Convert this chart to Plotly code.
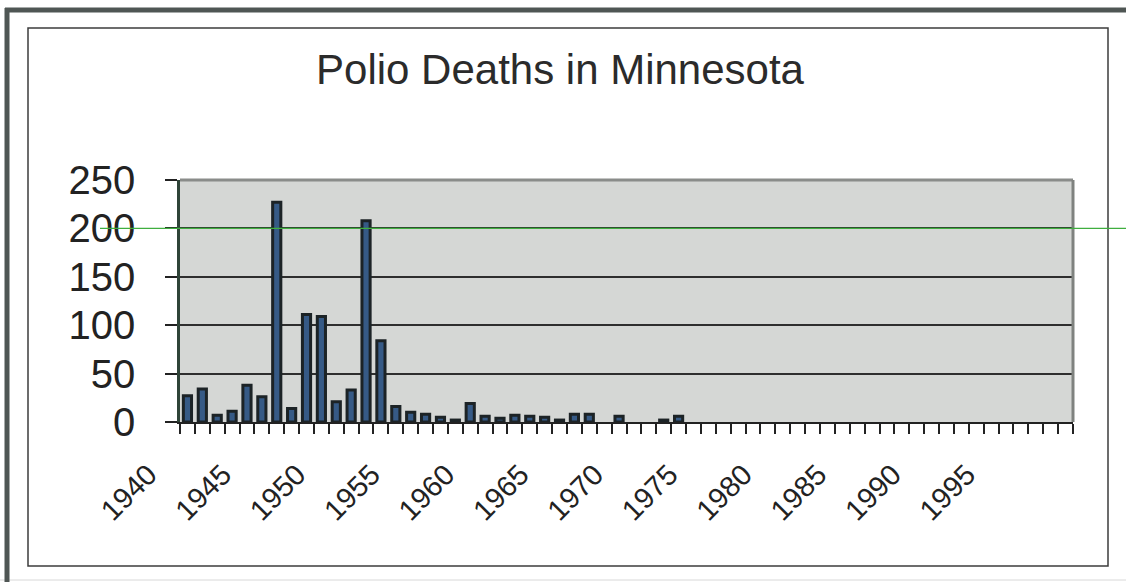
import numpy as np
import plotly.graph_objects as go

# ---- data ----
years = list(range(1940, 2000))
deaths = [27, 34, 7, 11, 38, 26, 227, 14, 111, 109,
          21, 33, 208, 84, 16, 10, 8, 5, 2, 19,
          6, 4, 7, 6, 5, 2, 8, 8, 0, 6,
          0, 0, 2, 6, 0, 0, 0, 0, 0, 0,
          0, 0, 0, 0, 0, 0, 0, 0, 0, 0,
          0, 0, 0, 0, 0, 0, 0, 0, 0, 0]
label_years = list(range(1940, 2000, 5))
label_text = [str(y) for y in label_years]
y_ticks = [0, 50, 100, 150, 200, 250]
title_text = "Polio Deaths in Minnesota"

# ---- layout geometry (pixels) ----
W, H = 1126, 582
L, R, T, B = 180, 1073, 180, 422
FONT = "Liberation Sans, Arial, sans-serif"


def px_x(px):
    return (px - L) / (R - L)


def px_y(py):
    return (B - py) / (B - T)


# zero-value years draw no outline
outline_widths = [3 if v > 0 else 0 for v in deaths]

fig = go.Figure()
fig.add_trace(go.Bar(
    x=years, y=deaths,
    marker=dict(color="#365a86", line=dict(color="#1c2326", width=outline_widths)),
    hoverinfo="x+y",
))

boundaries = list(np.arange(years[0] - 0.5, years[-1] + 1.0, 1.0))

shapes = [
    # plot-area top and right borders
    dict(type="line", xref="paper", yref="paper", x0=0, x1=1, y0=1, y1=1,
         line=dict(color="#8a8c8a", width=3), layer="above"),
    dict(type="line", xref="paper", yref="paper", x0=1, x1=1, y0=0, y1=1,
         line=dict(color="#7f827f", width=3), layer="above"),
    # green scan line at 200
    dict(type="line", xref="paper", yref="y", x0=px_x(100), x1=px_x(1126), y0=200, y1=200,
         line=dict(color="#3fae3f", width=1.2), layer="above"),
    # inner frame
    dict(type="rect", xref="paper", yref="paper", x0=px_x(28), x1=px_x(1108),
         y0=px_y(566), y1=px_y(28), line=dict(color="#3c3c3c", width=1.5), layer="below"),
    # outer frame (top and left)
    dict(type="line", xref="paper", yref="paper", x0=px_x(5), x1=px_x(1126),
         y0=px_y(10), y1=px_y(10), line=dict(color="#4f5654", width=5), layer="above"),
    dict(type="line", xref="paper", yref="paper", x0=px_x(7), x1=px_x(7),
         y0=px_y(8), y1=px_y(582), line=dict(color="#4f5654", width=5), layer="above"),
    dict(type="line", xref="paper", yref="paper", x0=px_x(0), x1=px_x(1126),
         y0=px_y(580), y1=px_y(580), line=dict(color="#d8d8d8", width=1), layer="below"),
]

fig.update_layout(
    template="none",
    width=W, height=H,
    margin=dict(l=L, r=W - R, t=T, b=H - B, pad=0),
    paper_bgcolor="white",
    plot_bgcolor="#d5d7d5",
    showlegend=False,
    bargap=0.45,
    title=dict(text=title_text, x=560 / W, xanchor="center", xref="container",
               y=1 - 69 / H, yanchor="middle", yref="container",
               font=dict(family=FONT, size=42, color="#2b2b2b")),
    shapes=shapes,
    xaxis=dict(
        type="linear", range=[years[0] - 0.5, years[-1] + 0.5],
        tickmode="array", tickvals=label_years, ticktext=label_text,
        ticks="", tickangle=-45,
        tickfont=dict(family=FONT, size=29, color="#222222"),
        ticklabelstandoff=22, ticklabelshift=-39,
        showgrid=False, zeroline=False,
        showline=True, linecolor="#222222", linewidth=2,
        minor=dict(tickmode="array", tickvals=boundaries, ticks="outside",
                   ticklen=10, tickwidth=1.5, tickcolor="#222222", showgrid=False),
        automargin=False, fixedrange=True,
    ),
    yaxis=dict(
        range=[0, 250], tickmode="array", tickvals=y_ticks,
        ticks="outside", ticklen=12, tickwidth=1.5, tickcolor="#222222",
        tickfont=dict(family=FONT, size=40, color="#222222"),
        ticklabelstandoff=22,
        showgrid=True, gridcolor="#2e2e2e", gridwidth=1.5,
        zeroline=False,
        showline=True, linecolor="#2f4438", linewidth=2.5,
        automargin=False, fixedrange=True,
    ),
)

fig.write_html("out.html",
               config={"displayModeBar": False},
               post_script="document.body.style.margin='0px';document.body.style.padding='0px';")
